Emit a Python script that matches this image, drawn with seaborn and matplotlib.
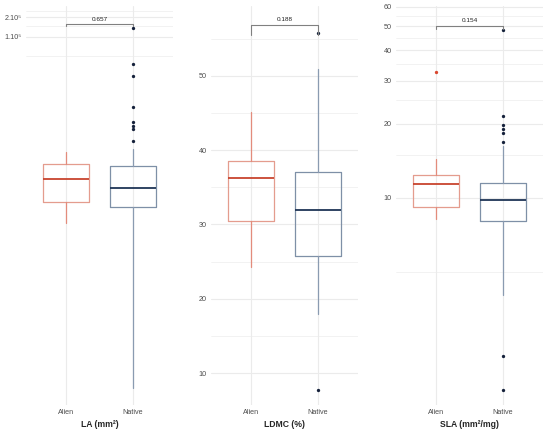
import matplotlib
matplotlib.use("Agg")
import matplotlib.pyplot as plt
import seaborn as sns
from matplotlib.ticker import FixedLocator, NullFormatter

# Groups
groups = ["Alien", "Native"]

# LA (mm2) box stats, [Alien, Native]
la_low = [135, 0.383]
la_q1 = [284, 238]
la_med = [644, 468]
la_q3 = [1097, 1020]
la_high = [1680, 1870]
la_out = [[], [138000, 38300, 25000, 8310, 4880, 4230, 3800, 2480]]

# LDMC (%) box stats
ldmc_low = [24.3, 18.0]
ldmc_q1 = [30.5, 25.8]
ldmc_med = [36.2, 31.9]
ldmc_q3 = [38.5, 37.0]
ldmc_high = [45.1, 50.9]
ldmc_out = [[], [55.7, 7.7]]

# SLA (mm2/mg) box stats
sla_low = [8.2, 4.0]
sla_q1 = [9.2, 8.06]
sla_med = [11.4, 9.8]
sla_q3 = [12.4, 11.5]
sla_high = [14.4, 16.3]
sla_out = [[32.5], [48.2, 21.5, 19.8, 19.1, 18.4, 16.9, 2.26, 1.64]]

# p-values and bracket heights
p_values = ["0.657", "0.188", "0.154"]
bracket_y = [1.56e5, 56.9, 50.2]
bracket_tip = [1.49e5, 55.5, 48.6]

titles = ["LA (mm²)", "LDMC (%)", "SLA (mm²/mg)"]

sns.set_style("white")
plt.rcParams["font.family"] = ["Liberation Sans", "DejaVu Sans"]

box_col = ["#E49C8E", "#7E90A7"]
whisk_col = ["#E38C7C", "#8A9BB1"]
med_col = ["#C8442E", "#1F3556"]
out_col = ["#D9472F", "#15213B"]
grid_col = "#EBEBEB"


def make_stats(low, q1, med, q3, high, out):
    return [dict(whislo=low[i], q1=q1[i], med=med[i], q3=q3[i], whishi=high[i],
                 fliers=out[i], label=groups[i]) for i in range(2)]


panels = [
    dict(stats=make_stats(la_low, la_q1, la_med, la_q3, la_high, la_out),
         log=True, ylim=(0.209, 3.0e5), major=[1e5, 2e5],
         labels=["1.10⁵", "2.10⁵"], minor=[5e4, 1.5e5, 2.5e5]),
    dict(stats=make_stats(ldmc_low, ldmc_q1, ldmc_med, ldmc_q3, ldmc_high, ldmc_out),
         log=False, ylim=(5.7, 59.4), major=[10, 20, 30, 40, 50],
         labels=["10", "20", "30", "40", "50"], minor=[5, 15, 25, 35, 45, 55]),
    dict(stats=make_stats(sla_low, sla_q1, sla_med, sla_q3, sla_high, sla_out),
         log=True, ylim=(1.43, 60.5), major=[10, 20, 30, 40, 50, 60],
         labels=["10", "20", "30", "40", "50", "60"], minor=[5, 15, 25, 35, 45, 55]),
]

fig = plt.figure(figsize=(5.5, 4.36), dpi=100)
lefts = [26 / 550, 211 / 550, 396 / 550]
bottom = 1 - 405 / 436
height = 399 / 436
width = 147 / 550

for k, p in enumerate(panels):
    ax = fig.add_axes([lefts[k], bottom, width, height])
    if p["log"]:
        ax.set_yscale("log")
    res = ax.bxp(p["stats"], positions=[0, 1], widths=0.7, showcaps=False,
                 manage_ticks=False, zorder=3)
    for i in range(2):
        res["boxes"][i].set(color=box_col[i], linewidth=0.9)
        res["medians"][i].set(color=med_col[i], linewidth=1.3)
        for w in res["whiskers"][2 * i:2 * i + 2]:
            w.set(color=whisk_col[i], linewidth=0.9)
        res["fliers"][i].set(marker="o", markersize=2.4, markeredgewidth=0,
                             markerfacecolor=out_col[i], linestyle="none")

    ax.set_xlim(-0.6, 1.6)
    ax.set_ylim(*p["ylim"])
    ax.yaxis.set_major_locator(FixedLocator(p["major"]))
    ax.set_yticklabels(p["labels"])
    ax.yaxis.set_minor_locator(FixedLocator(p["minor"]))
    ax.yaxis.set_minor_formatter(NullFormatter())
    ax.set_xticks([0, 1])
    ax.set_xticklabels(groups)

    ax.grid(which="major", axis="both", color=grid_col, linewidth=0.8, zorder=0)
    ax.grid(which="minor", axis="y", color=grid_col, linewidth=0.45, zorder=0)
    ax.set_axisbelow(True)
    ax.tick_params(which="both", length=0, labelsize=5.2, labelcolor="#4D4D4D", pad=3)
    sns.despine(ax=ax, left=True, bottom=True)

    ax.set_xlabel(titles[k], fontsize=6.2, fontweight="bold", labelpad=3)

    # significance bracket
    ax.plot([0, 0, 1, 1], [bracket_tip[k], bracket_y[k], bracket_y[k], bracket_tip[k]],
            color="#808080", linewidth=0.8, zorder=4)
    ax.annotate(p_values[k], xy=(0.5, bracket_y[k]), xytext=(0, 2),
                textcoords="offset points", ha="center", va="bottom",
                fontsize=4.6, color="#222222")

fig.savefig("out.png", dpi=100)
